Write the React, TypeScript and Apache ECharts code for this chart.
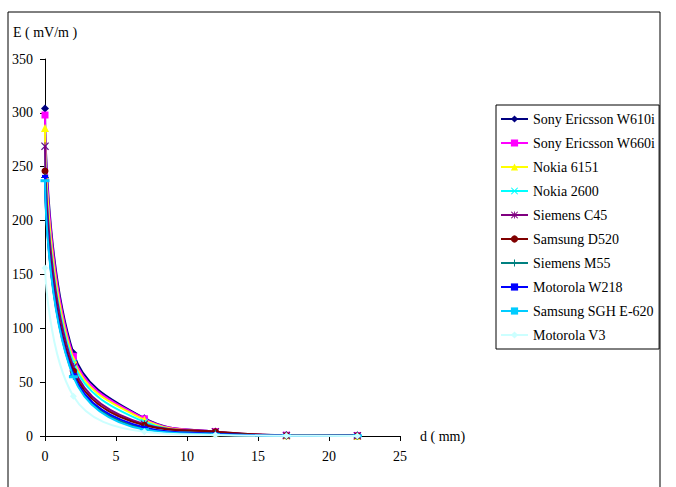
import React, { useEffect, useRef } from "react";
import * as echarts from "echarts";

const distances = [0, 2, 7, 12, 17, 22];
const seriesNames = [
  "Sony Ericsson W610i",
  "Sony Ericsson W660i",
  "Nokia 6151",
  "Nokia 2600",
  "Siemens C45",
  "Samsung D520",
  "Siemens M55",
  "Motorola W218",
  "Samsung SGH E-620",
  "Motorola V3",
];
const sonyW610i = [304, 77, 16.5, 4, 0.8, 0.4];
const sonyW660i = [298, 74, 16, 4, 0.7, 0.4];
const nokia6151 = [286, 71, 15, 3.5, 0.6, 0.3];
const nokia2600 = [269, 68, 13, 3, 0.5, 0.3];
const siemensC45 = [269, 64, 11, 4, 0.5, 0.3];
const samsungD520 = [246, 60, 10, 4, 0.5, 0.3];
const siemensM55 = [240, 56, 7, 2, 0.4, 0.2];
const motorolaW218 = [241, 57, 8, 2, 0.4, 0.2];
const samsungE620 = [237, 55, 6, 1.5, 0.3, 0.2];
const motorolaV3 = [156, 37, 4, 1, 0.2, 0.1];
const yTicks = [0, 50, 100, 150, 200, 250, 300, 350];
const xTicks = [0, 5, 10, 15, 20, 25];

const allValues = [
  sonyW610i, sonyW660i, nokia6151, nokia2600, siemensC45,
  samsungD520, siemensM55, motorolaW218, samsungE620, motorolaV3,
];

const colors = [
  "#000080", "#FF00FF", "#FFFF00", "#00FFFF", "#800080",
  "#800000", "#008080", "#0000FF", "#00CCFF", "#CCFFFF",
];

const X_PATH = "path://M0,1L1,0L5,4L9,0L10,1L6,5L10,9L9,10L5,6L1,10L0,9L4,5Z";
const STAR_PATH =
  "path://M0,1L1,0L5,4L9,0L10,1L6,5L10,9L9,10L5,6L1,10L0,9L4,5Z M4.4,0L5.6,0L5.6,10L4.4,10Z";
const PLUS_PATH = "path://M4.3,0L5.7,0L5.7,10L4.3,10Z M0,4.3L10,4.3L10,5.7L0,5.7Z";
const SHORT_DASH = "path://M0,0L6,0L6,3L0,3Z";
const LONG_DASH = "path://M0,0L9,0L9,3L0,3Z";

const symbols: any[] = [
  ["diamond", 8],
  ["rect", 7],
  ["triangle", 8],
  [X_PATH, 7],
  [STAR_PATH, 8],
  ["circle", 7],
  [PLUS_PATH, 8],
  [SHORT_DASH, 6],
  [LONG_DASH, 9],
  ["diamond", 7],
];

const FONT = "Liberation Serif";

export default function App() {
  const ref = useRef<HTMLDivElement>(null);
  useEffect(() => {
    if (!ref.current) return;
    const chart = echarts.init(ref.current, null, { renderer: "svg" });
    const series = seriesNames.map((name, i) => ({
      name,
      type: "line",
      smooth: 0.4,
      data: distances.map((d, j) => [d, allValues[i][j]]),
      symbol: symbols[i][0],
      symbolSize: symbols[i][1],
      symbolKeepAspect: true,
      showSymbol: true,
      lineStyle: { color: colors[i], width: 2 },
      itemStyle: { color: colors[i], borderColor: colors[i], borderWidth: 0 },
      emphasis: { disabled: true },
      z: 2 + i,
    }));
    chart.setOption({
      animation: false,
      backgroundColor: "#fff",
      textStyle: { fontFamily: FONT },
      grid: { left: 45, right: 276, top: 59, bottom: 51 },
      xAxis: {
        type: "value",
        min: xTicks[0],
        max: xTicks[xTicks.length - 1],
        interval: 5,
        name: "d ( mm)",
        nameLocation: "end",
        nameGap: 20,
        nameTextStyle: { fontFamily: FONT, fontSize: 14, color: "#000" },
        axisLine: { onZero: false, lineStyle: { color: "#000", width: 1 } },
        axisTick: { show: true, length: 5, lineStyle: { color: "#000" } },
        axisLabel: { fontFamily: FONT, fontSize: 14, color: "#000", margin: 13 },
        splitLine: { show: false },
      },
      yAxis: {
        type: "value",
        min: yTicks[0],
        max: yTicks[yTicks.length - 1],
        interval: 50,
        axisLine: { show: true, lineStyle: { color: "#000", width: 1 } },
        axisTick: { show: true, length: 5, lineStyle: { color: "#000" } },
        axisLabel: { fontFamily: FONT, fontSize: 14, color: "#000", margin: 12 },
        splitLine: { show: false },
      },
      legend: {
        orient: "vertical",
        left: 496,
        top: 105,
        padding: [7, 4, 7, 4],
        itemGap: 10,
        itemWidth: 27,
        itemHeight: 9,
        borderColor: "#000",
        borderWidth: 1,
        textStyle: { fontFamily: FONT, fontSize: 14, color: "#000", padding: [0, 0, 0, 0] },
        data: seriesNames,
      },
      graphic: [
        {
          type: "rect",
          shape: { x: 8, y: 12, width: 652, height: 500 },
          style: { fill: "none", stroke: "#000", lineWidth: 1 },
          silent: true,
          z: 0,
        },
        {
          type: "text",
          left: 13,
          top: 25,
          style: { text: "E ( mV/m )", font: `14px "${FONT}"`, fill: "#000" },
        },
      ],
      series,
    });
    return () => chart.dispose();
  }, []);
  return (
    <div
      ref={ref}
      style={{ position: "fixed", left: 0, top: 0, width: 676, height: 487 }}
    />
  );
}
